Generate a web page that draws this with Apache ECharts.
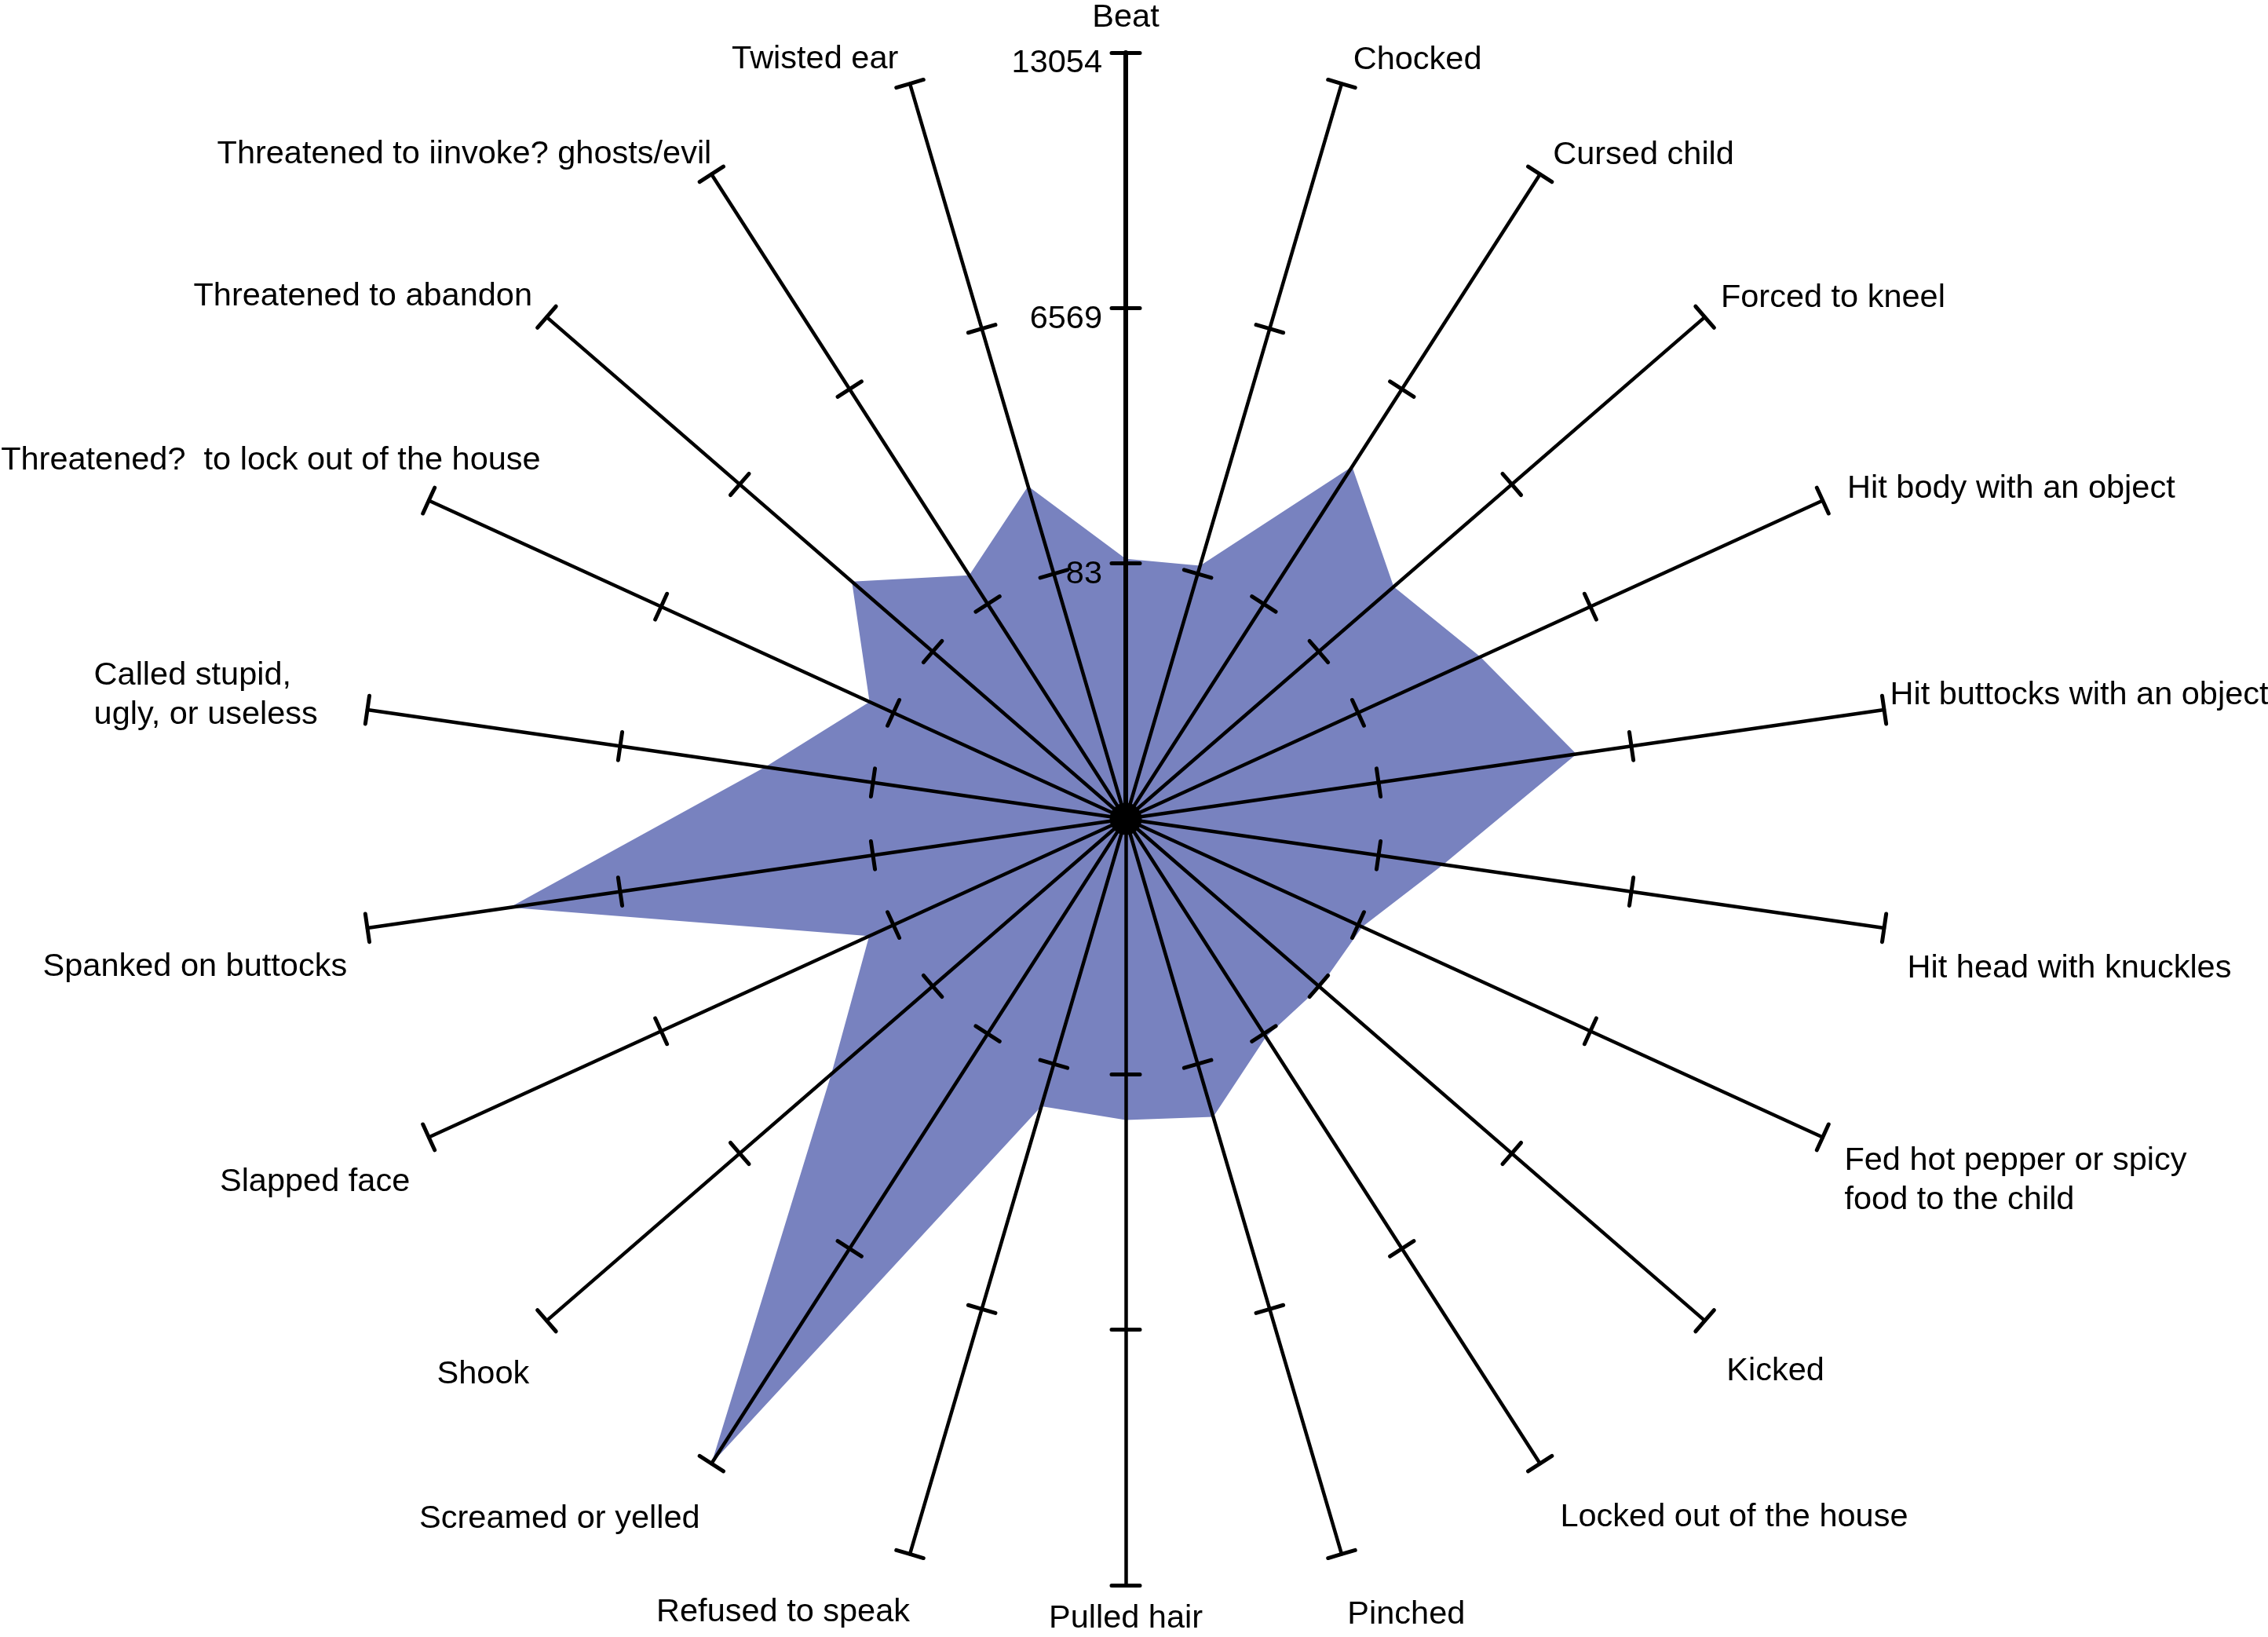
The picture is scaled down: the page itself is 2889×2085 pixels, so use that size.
<!DOCTYPE html>
<html><head><meta charset="utf-8">
<script src="https://cdn.jsdelivr.net/npm/echarts@6/dist/echarts.min.js"></script>
<style>html,body{margin:0;padding:0;background:#fff}#c{width:2889px;height:2085px}</style>
</head><body><div id="c"></div>
<script>
// ---- data (clockwise from top) ----
const categories = [
  'Beat', 'Chocked', 'Cursed child', 'Forced to kneel', 'Hit body with an object',
  'Hit buttocks with an object', 'Hit head with knuckles', 'Fed hot pepper or spicy\nfood to the child',
  'Kicked', 'Locked out of the house', 'Pinched', 'Pulled hair', 'Refused to speak',
  'Screamed or yelled', 'Shook', 'Slapped face', 'Spanked on buttocks',
  'Called stupid,\nugly, or useless', 'Threatened?  to lock out of the house',
  'Threatened to abandon', 'Threatened to iinvoke? ghosts/evil', 'Twisted ear'
];
const values = [200, 300, 4230, 2600, 3500, 5160, 1740, 200, 120, 180, 1480, 1240,
                1200, 13054, 3490, 760, 9400, 2850, 750, 2800, 950, 2400];
const tickLabels = [83, 6569, 13054];

// ---- layout (reference px, scaled) ----
const S = 1.8425;
const FS = 41.5, LH = 50;
// [align, dx, dy, nameGap]
const nameLayout = [
  ['center', 0, -24, 0], ['left', 8, -16, 0], ['left', 9, -13, 0], ['left', 11, -13, 0],
  ['left', 17, -8, 0], ['left', 4, -10, 0], ['left', 16, 28, 0], ['left', 15, 30, 0],
  ['left', 15, 35, 0], ['left', 14, 37, 0], ['left', 4, 42, 0], ['center', 0, 23, 0],
  ['right', 0, 40, 0], ['right', -8, 38, 0], ['right', -12, 37, 0], ['right', -13, 31, 0],
  ['right', -14, 27, 0], ['left', 0, 17, 191], ['right', 0, -63, -85],
  ['right', -10, -14, 0], ['right', 0, -14, 0], ['right', -8, -17, 0]
];

const axisMax = tickLabels[2];
const axisMin = tickLabels[0] - (tickLabels[1] - tickLabels[0]);

const n = categories.length;
const order = [0];
for (let k = n - 1; k >= 1; k--) order.push(k);

const FONT = 'Liberation Sans, Arial, sans-serif';

function vertLayout(dyPx, lines) {
  const half = lines * LH / 2;
  if (dyPx >= 0) return ['top', dyPx - half, 0];
  return ['bottom', 0, -dyPx - half];
}

function makeIndicators(withNames) {
  return order.map(i => {
    const [al, dx, dy, gap] = nameLayout[i];
    const lines = categories[i].split('\n').length;
    const [va, pt, pb] = vertLayout(dy * S, lines);
    const pl = (al === 'left' && dx > 0) ? dx * S : 0;
    const pr = (al === 'right' && dx < 0) ? -dx * S : 0;
    const ind = {
      name: withNames ? categories[i] : '',
      min: axisMin, max: axisMax,
      nameGap: gap * S,
      nameMoveOverlap: false,
      nameTextStyle: { align: al, verticalAlign: va, padding: [pt, pr, pb, pl] }
    };
    if (i === 0) {
      ind.axisLine = { lineStyle: { width: 6 } };
      if (withNames) {
        ind.axisLabel = {
          show: true, margin: 30, color: '#000', fontSize: FS, fontFamily: FONT,
          verticalAlign: 'top', lineHeight: 28,
          formatter: v => {
            if (v < tickLabels[0] - 1) return '';
            let best = tickLabels[0];
            tickLabels.forEach(t => { if (Math.abs(t - v) < Math.abs(best - v)) best = t; });
            return String(best);
          }
        };
      }
    }
    return ind;
  });
}

const common = {
  center: [1434, 1043], radius: 976, startAngle: 90, splitNumber: 3, shape: 'polygon',
  splitLine: { show: false }, splitArea: { show: false }, z: 5
};

const chart = echarts.init(document.getElementById('c'), null, { width: 2889, height: 2085 });
chart.setOption({
  backgroundColor: '#fff',
  animation: false,
  radar: [
    Object.assign({}, common, {
      indicator: makeIndicators(true),
      axisName: { show: true, color: '#000', fontSize: FS, fontFamily: FONT, lineHeight: LH },
      axisLine: { show: true, lineStyle: { color: '#000', width: 4.5 } },
      axisTick: { show: true, length: 18, inside: false, lineStyle: { color: '#000', width: 5, cap: 'round' } },
      axisLabel: { show: false }
    }),
    Object.assign({}, common, {
      indicator: makeIndicators(false),
      axisName: { show: false },
      axisLine: { show: false },
      axisTick: { show: true, length: -18, inside: false, lineStyle: { color: '#000', width: 5, cap: 'round' } },
      axisLabel: { show: false }
    })
  ],
  series: [{
    type: 'radar', radarIndex: 0, z: 1, symbol: 'none', silent: true,
    lineStyle: { width: 0 },
    areaStyle: { color: '#7882bf', opacity: 1 },
    data: [{ value: order.map(i => values[i]) }]
  }]
});
</script></body></html>
